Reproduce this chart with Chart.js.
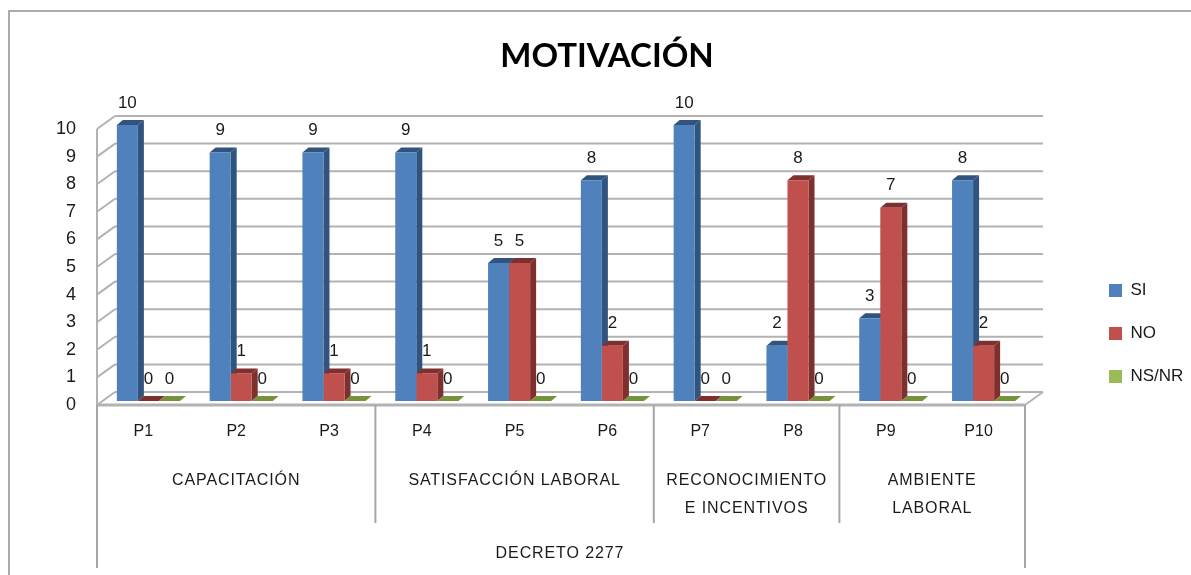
<!DOCTYPE html>
<html>
<head>
<meta charset="utf-8">
<title>MOTIVACIÓN</title>
<script src="https://cdn.jsdelivr.net/npm/chart.js@4"></script>
<style>
  html, body { margin: 0; padding: 0; background: #fff; }
  canvas { display: block; filter: blur(0.45px); }
</style>
</head>
<body>
<canvas id="chart" width="1191" height="575"></canvas>
<script>
const categories = ["P1", "P2", "P3", "P4", "P5", "P6", "P7", "P8", "P9", "P10"];
const siValues = [10, 9, 9, 9, 5, 8, 10, 2, 3, 8];
const noValues = [0, 1, 1, 1, 5, 2, 0, 8, 7, 2];
const nsValues = [0, 0, 0, 0, 0, 0, 0, 0, 0, 0];
const yTicks = [0, 1, 2, 3, 4, 5, 6, 7, 8, 9, 10];

// second level of the category axis, how many categories each one spans
const groupNames = [["CAPACITACIÓN"], ["SATISFACCIÓN LABORAL"], ["RECONOCIMIENTO", "E INCENTIVOS"], ["AMBIENTE", "LABORAL"]];
const groupSizes = [3, 3, 2, 2];
const outerGroup = "DECRETO 2277";

const BLUE = "#4F81BD", RED = "#C0504D", GREEN = "#9BBB59";
const GRID = "#B2B2B2";
const TEXT = "#1a1a1a";
const FONT = '"Liberation Sans", sans-serif';

const shades = { [BLUE]: "#31547F", [RED]: "#7E302E", [GREEN]: "#76923C" };

// the 3d look: how far the wall and the bars are pushed back
const wall = { dx: 18, dy: -13, frontX: -5, frontY: 4 };
const barDepth = { dx: 6, dy: -5 };

function line(ctx, x1, y1, x2, y2) {
  ctx.beginPath();
  ctx.moveTo(x1, y1);
  ctx.lineTo(x2, y2);
  ctx.stroke();
}

function face(ctx, color, pts) {
  ctx.fillStyle = color;
  ctx.beginPath();
  pts.forEach((p, i) => i ? ctx.lineTo(p[0], p[1]) : ctx.moveTo(p[0], p[1]));
  ctx.closePath();
  ctx.fill();
}

const box3d = {
  id: "box3d",
  afterLayout(chart) {
    // legend and title sit off the default slots
    const lg = chart.legend;
    lg.left = 1083;
    lg.right = chart.width;
    lg.top = 256;
    lg.bottom = 575;
    chart.titleBlock.left = 184;
  },
  beforeDraw(chart) {
    const { ctx, scales: { x, y } } = chart;
    const step = x.getPixelForValue(1) - x.getPixelForValue(0);
    const left = x.left + wall.frontX, right = x.right + wall.frontX;
    ctx.save();

    // outer frame of the picture
    ctx.strokeStyle = "#ABABAB";
    ctx.lineWidth = 2;
    line(ctx, 9, 11, chart.width, 11);
    line(ctx, 9, 10, 9, chart.height);

    // walls and floor
    ctx.strokeStyle = GRID;
    ctx.lineWidth = 2;
    yTicks.forEach(t => {
      const fy = y.getPixelForValue(t) + wall.frontY;
      line(ctx, left, fy, left + wall.dx, fy + wall.dy);
      line(ctx, left + wall.dx, fy + wall.dy, right + wall.dx, fy + wall.dy);
    });
    const zero = y.getPixelForValue(0) + wall.frontY;
    const top = y.getPixelForValue(10) + wall.frontY;
    line(ctx, left, top, left, zero);
    line(ctx, right, zero, right + wall.dx, zero + wall.dy);
    ctx.lineWidth = 3;
    line(ctx, left, zero, right, zero);

    // separators of the category levels
    ctx.lineWidth = 2;
    ctx.strokeStyle = "#A6A6A6";
    line(ctx, left, zero, left, 568);
    line(ctx, right, zero, right, 568);
    let idx = 0;
    groupSizes.forEach((n, i) => {
      idx += n;
      if (i < groupSizes.length - 1) {
        const sx = x.getPixelForValue(idx) - step / 2 + wall.frontX;
        line(ctx, sx, zero, sx, 523);
      }
    });
    ctx.restore();
  },
  beforeDatasetsDraw(chart) {
    const { ctx } = chart;
    ctx.save();
    chart.data.datasets.forEach((ds, d) => {
      const shade = shades[ds.backgroundColor];
      chart.getDatasetMeta(d).data.forEach(bar => {
        const half = bar.width / 2;
        const l = bar.x - half, r = bar.x + half;
        const dx = barDepth.dx, dy = barDepth.dy;
        face(ctx, shade, [[l, bar.y], [r, bar.y], [r + dx, bar.y + dy], [l + dx, bar.y + dy]]);
        face(ctx, shade, [[r, bar.y], [r + dx, bar.y + dy], [r + dx, bar.base + dy], [r, bar.base]]);
      });
    });
    ctx.restore();
  },
  afterDatasetsDraw(chart) {
    const { ctx, scales: { x } } = chart;
    const step = x.getPixelForValue(1) - x.getPixelForValue(0);
    ctx.save();
    ctx.textAlign = "center";
    ctx.textBaseline = "middle";
    ctx.fillStyle = TEXT;

    // value labels above each bar
    ctx.font = "17px " + FONT;
    chart.data.datasets.forEach((ds, d) => {
      chart.getDatasetMeta(d).data.forEach((bar, i) => {
        ctx.fillText(String(ds.data[i]), bar.x, bar.y - 22);
      });
    });

    // group levels under the category labels
    ctx.font = "16px " + FONT;
    ctx.letterSpacing = "0.9px";
    let idx = 0;
    groupNames.forEach((rows, g) => {
      const a = x.getPixelForValue(idx) - step / 2 + wall.frontX;
      idx += groupSizes[g];
      const b = x.getPixelForValue(idx - 1) + step / 2 + wall.frontX;
      rows.forEach((row, r) => ctx.fillText(row, (a + b) / 2, 481 + r * 28));
    });
    ctx.fillText(outerGroup, (x.left + x.right) / 2 + wall.frontX - 1, 554);
    ctx.restore();
  }
};

new Chart(document.getElementById("chart").getContext("2d"), {
  type: "bar",
  data: {
    labels: categories,
    datasets: [
      { label: "SI", data: siValues, backgroundColor: BLUE },
      { label: "NO", data: noValues, backgroundColor: RED },
      { label: "NS/NR", data: nsValues, backgroundColor: GREEN }
    ]
  },
  options: {
    responsive: false,
    animation: false,
    layout: { padding: { left: 0, right: 161, top: 0, bottom: 0 } },
    datasets: { bar: { categoryPercentage: 0.68, barPercentage: 1 } },
    plugins: {
      title: {
        display: true,
        text: "MOTIVACIÓN",
        color: "#000",
        font: { family: "Lato", size: 33, weight: "bold", lineHeight: 1 },
        padding: { top: 40, bottom: 52 }
      },
      legend: {
        position: "chartArea",
        align: "start",
        labels: {
          boxWidth: 13,
          boxHeight: 13,
          padding: 26,
          color: TEXT,
          font: { family: "Liberation Sans", size: 17 }
        }
      },
      tooltip: { enabled: false }
    },
    scales: {
      x: {
        grid: { display: false },
        border: { display: false },
        afterFit(s) { s.height = 174; },
        ticks: {
          color: TEXT,
          font: { family: "Liberation Sans", size: 16 },
          padding: 13,
          labelOffset: -5,
          maxRotation: 0
        }
      },
      y: {
        min: 0,
        max: 10,
        grid: { display: false },
        border: { display: false },
        afterFit(s) { s.width = 102; },
        ticks: {
          stepSize: 1,
          color: TEXT,
          font: { family: "Liberation Sans", size: 18 },
          padding: 18,
          labelOffset: 4
        }
      }
    }
  },
  plugins: [box3d]
});
</script>
</body>
</html>
